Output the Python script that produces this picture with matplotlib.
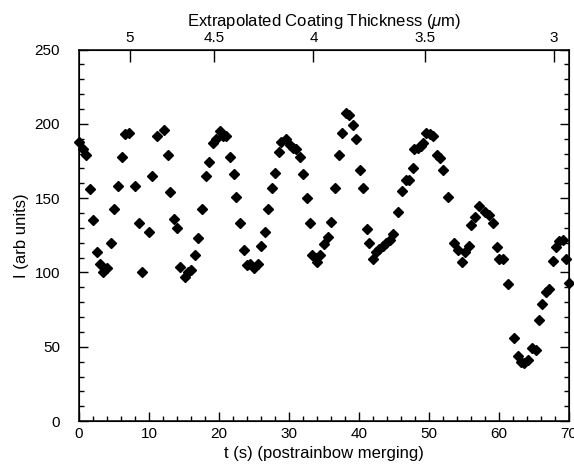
import numpy as np
import matplotlib
matplotlib.use('Agg')
import matplotlib.pyplot as plt
from matplotlib.ticker import MultipleLocator

# intensity vs time after rainbow merging
t = [0.0, 0.6, 0.95, 1.57, 2.04, 2.52, 3.0, 3.47, 4.04, 4.57, 5.0, 5.61, 6.09, 6.56, 7.18,
     8.04, 8.56, 8.94, 10.03, 10.5, 11.08, 12.1, 12.65, 12.98, 13.55, 14.07, 14.5, 15.12,
     15.6, 16.07, 16.64, 17.0, 17.6, 18.1, 18.6, 19.16, 19.6, 20.1, 20.6, 21.07, 21.6,
     22.1, 22.5, 23.06, 23.6, 24.0, 24.39, 24.96, 25.58, 26.06, 26.53, 27.0, 27.63, 28.05,
     28.58, 28.9, 29.53, 30.1, 30.57, 31.05, 31.6, 32.0, 32.57, 32.95, 33.3, 33.8, 34.0,
     34.5, 35.0, 35.57, 36.04, 36.57, 37.14, 37.57, 38.1, 38.57, 39.14, 39.6, 40.1, 40.56,
     41.13, 41.5, 42.0, 42.46, 42.9, 43.4, 43.9, 44.4, 44.9, 45.55, 46.17, 46.65, 47.1,
     47.7, 47.9, 48.4, 48.9, 49.2, 49.6, 50.2, 50.6, 51.1, 51.6, 52.07, 52.7, 53.55, 54.1,
     54.7, 55.2, 55.7, 56.0, 56.6, 57.2, 58.07, 58.6, 59.2, 59.7, 60.06, 60.6, 61.25, 62.2,
     62.7, 63.15, 63.6, 64.1, 64.7, 65.3, 65.7, 66.2, 66.7, 67.2, 67.7, 68.1, 68.6, 69.2,
     69.6, 70.0]
intensity = [188, 183, 179, 156, 135, 114, 106, 100, 103, 120, 143, 158, 178, 193, 194,
             158, 133, 100, 127, 165, 192, 196, 179, 154, 136, 130, 104, 97, 100, 102, 112,
             123, 143, 165, 174, 187, 190, 195, 192, 192, 178, 166, 151, 133, 115, 105, 106,
             103, 106, 118, 127, 143, 157, 167, 181, 188, 190, 186, 184, 183, 178, 166, 150,
             133, 112, 110, 107, 112, 119, 124, 134, 157, 179, 194, 207, 206, 199, 190, 169,
             157, 129, 120, 109, 114, 116, 118, 120, 122, 126, 141, 155, 162, 162, 170, 183,
             184, 185, 187, 194, 193, 192, 179, 177, 169, 151, 120, 115, 107, 114, 118, 132,
             137, 145, 141, 139, 133, 117, 109, 109, 92, 56, 44, 40, 39, 41, 49, 48, 68, 79,
             87, 89, 108, 117, 121, 122, 109, 93]

# top axis: coating thickness labels and where they sit on the t axis
thick_labels = ['5', '4.5', '4', '3.5', '3']
thick_pos = [7.27, 19.26, 33.5, 49.5, 67.8]

plt.rcParams['font.family'] = ['Liberation Sans', 'DejaVu Sans']
plt.rcParams['mathtext.fontset'] = 'custom'
plt.rcParams['mathtext.it'] = 'Liberation Sans:italic'

fig = plt.figure(figsize=(5.74, 4.70), dpi=100)
ax = fig.add_axes([0.1376, 0.104, 0.8537, 0.7906])

ax.plot(t, intensity, 'D', color='black', markersize=5.0, clip_on=False, zorder=3)

ax.set_xlim(0, 70)
ax.set_ylim(0, 250)
ax.xaxis.set_major_locator(MultipleLocator(10))
ax.xaxis.set_minor_locator(MultipleLocator(2))
ax.yaxis.set_major_locator(MultipleLocator(50))
ax.yaxis.set_minor_locator(MultipleLocator(10))
ax.tick_params(which='both', direction='in', right=True, top=False, labelsize=11, width=1)
ax.tick_params(which='major', length=6.5)
ax.tick_params(which='minor', length=3.5)
ax.tick_params(axis='y', which='both', pad=13.5)
ax.tick_params(axis='x', which='both', pad=4)
for s in ax.spines.values():
    s.set_linewidth(1.1)

ax.set_xlabel('t (s) (postrainbow merging)', fontsize=12, labelpad=4)
ax.set_ylabel('I (arb units)', fontsize=12, labelpad=4)

ax2 = ax.twiny()
ax2.set_xlim(ax.get_xlim())
ax2.set_xticks(thick_pos)
ax2.set_xticklabels(thick_labels)
ax2.tick_params(direction='in', length=8.5, width=1, labelsize=11, pad=3)
ax2.set_xlabel(r'Extrapolated Coating Thickness ($\mu$m)', fontsize=12, labelpad=4)

fig.savefig('out.png', dpi=100)
